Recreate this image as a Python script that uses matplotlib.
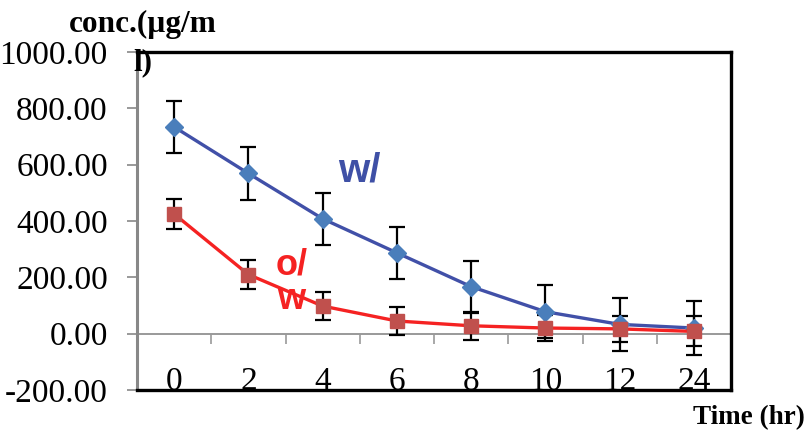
import numpy as np
import matplotlib
matplotlib.use("Agg")
import matplotlib.pyplot as plt

# data
times = ["0", "2", "4", "6", "8", "10", "12", "24"]
with_mean = [734, 569, 408, 287, 167, 78, 33, 20]
with_err = [92, 93, 93, 93, 92, 95, 95, 95]
without_mean = [425, 210, 98, 45, 28, 20, 17, 8]
without_err = [52, 52, 50, 50, 50, 45, 45, 53]

plt.rcParams['font.family'] = ['Liberation Serif', 'DejaVu Serif']

fig = plt.figure(figsize=(8.08, 4.37), dpi=100)
ax = fig.add_axes([137/808, 1-390/437, (731-137)/808, (390-52)/437])

x = np.arange(len(times))

# error bars first, markers sit on top
ax.errorbar(x, with_mean, yerr=with_err, fmt='none', ecolor='black',
            elinewidth=1.6, capsize=6, capthick=1.6, zorder=2)
ax.errorbar(x, without_mean, yerr=without_err, fmt='none', ecolor='black',
            elinewidth=1.6, capsize=6, capthick=1.6, zorder=2)

ax.plot(x, with_mean, color='#4150A8', lw=2.4, marker='D', ms=9,
        mfc='#4A7EBB', mec='#4A7EBB', zorder=3)
ax.plot(x, without_mean, color='#F52222', lw=2.4, marker='s', ms=10,
        mfc='#C0504D', mec='#C0504D', zorder=4)

ax.set_xlim(-0.5, 7.5)
ax.set_ylim(-200, 1000)
ax.set_yticks(np.arange(-200, 1001, 200))
ax.set_yticklabels(['%.2f' % v for v in np.arange(-200, 1001, 200)])
ax.tick_params(axis='y', direction='out', length=7, width=1.2, color='#888888',
               labelsize=24, pad=14)

# category labels sit inside the frame, just above the bottom line
ax.set_xticks(x)
ax.set_xticklabels(times)
ax.tick_params(axis='x', length=0, labelsize=24, pad=-17)

# frame
for side in ['top', 'right', 'bottom']:
    ax.spines[side].set_color('black')
    ax.spines[side].set_linewidth(2.4)
ax.spines['left'].set_color('#888888')
ax.spines['left'].set_linewidth(2.2)

# the category axis crossing at y = 0
zero = ax.secondary_xaxis(200/1200)
zero.set_xticks(np.arange(0.5, 8, 1))
zero.set_xticklabels([])
zero.spines['bottom'].set_color('#999999')
zero.spines['bottom'].set_linewidth(1.4)
zero.tick_params(axis='x', direction='out', length=7, width=1.2, color='#999999')

# series labels
ax.text(2.49, 578, 'w/', color='#3F50A6', fontsize=29, fontweight='bold',
        family=['Liberation Sans'], ha='center', va='center')
ax.text(1.58, 183, 'o/\nw', color='#F52222', fontsize=26, fontweight='bold',
        family=['Liberation Sans'], ha='center', va='center', linespacing=1.0)

# axis titles (the y title wraps onto the frame like in the original)
fig.text(143/808, 1-24/437, 'conc.(\u00b5g/m', fontsize=22.5, fontweight='bold',
         ha='center', va='center')
fig.text(143/808, 1-63/437, 'l)', fontsize=22.5, fontweight='bold',
         ha='center', va='center')
fig.text(805/808, 1-418/437, 'Time (hr)', fontsize=19.5, fontweight='bold',
         ha='right', va='center')

fig.savefig('out.png', dpi=100)
